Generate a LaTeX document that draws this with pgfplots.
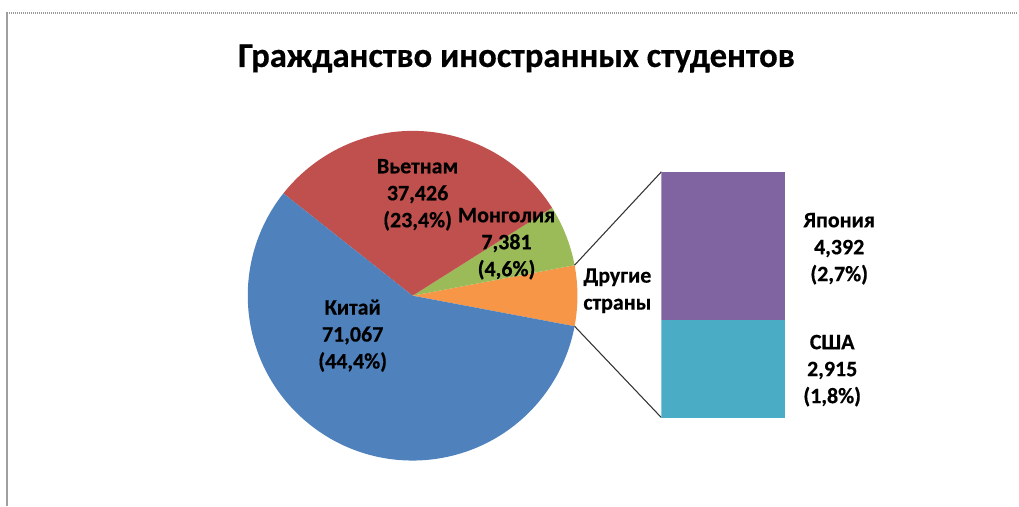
\documentclass[border=0pt]{standalone}
\usepackage{pgfplots}
\pgfplotsset{compat=1.18}
\usepackage{fontspec}
\setmainfont{Carlito}[BoldFeatures={FakeBold=0.5}]
\definecolor{cChina}{HTML}{4F81BD}
\definecolor{cVietnam}{HTML}{C0504D}
\definecolor{cMongolia}{HTML}{9BBB59}
\definecolor{cOther}{HTML}{F79646}
\definecolor{cJapan}{HTML}{8064A2}
\definecolor{cUSA}{HTML}{4BACC6}
% data (students)
\def\vChina{71067}
\def\vVietnam{37426}
\def\vMongolia{7381}
\def\vJapan{4392}
\def\vUSA{2915}
\edef\vOther{\fpeval{\vJapan+\vUSA}}
\edef\vTot{\fpeval{\vChina+\vVietnam+\vMongolia+\vOther}}
\edef\aHalf{\fpeval{180*\vOther/\vTot}}
\edef\aA{\fpeval{-\aHalf}}
\edef\aB{\aHalf}
\edef\aC{\fpeval{\aB+360*\vMongolia/\vTot}}
\edef\aD{\fpeval{\aC+360*\vVietnam/\vTot}}
\edef\aE{\fpeval{\aD+360*\vChina/\vTot}}
\def\R{123.75pt}
\newcommand\lbl{\fontsize{16.5}{20.25}\selectfont\bfseries}
\begin{document}
\begin{tikzpicture}
\begin{axis}[x=0.75pt,y=0.75pt,xmin=0,xmax=1019,ymin=0,ymax=506,
  hide axis,clip=false,at={(0pt,0pt)},anchor=south west]
\path (axis cs:0,0) rectangle (axis cs:1019,506);
% border
\draw[gray!75,line width=1.5pt] (axis cs:7.5,0) -- (axis cs:7.5,493.5);
\draw[gray!80,line width=1.5pt,dash pattern=on 0.75pt off 0.75pt] (axis cs:7,492.5) -- (axis cs:1019,492.5);
% pie
\fill[cOther] (axis cs:413,210) -- ++(\aA:\R) arc[start angle=\aA,end angle=\aB,radius=\R] -- cycle;
\fill[cMongolia] (axis cs:413,210) -- ++(\aB:\R) arc[start angle=\aB,end angle=\aC,radius=\R] -- cycle;
\fill[cVietnam] (axis cs:413,210) -- ++(\aC:\R) arc[start angle=\aC,end angle=\aD,radius=\R] -- cycle;
\fill[cChina] (axis cs:413,210) -- ++(\aD:\R) arc[start angle=\aD,end angle=\aE,radius=\R] -- cycle;
% connectors
\draw[black!80,line width=0.8pt] (axis cs:413,210) ++(\aB:\R) -- (axis cs:662,334);
\draw[black!80,line width=0.8pt] (axis cs:413,210) ++(\aA:\R) -- (axis cs:662,88);
% title
\node[font=\fontsize{26}{30}\selectfont\bfseries,anchor=base] at (axis cs:517,439) {Гражданство иностранных студентов};
% labels
\node[align=center,font=\lbl] at (axis cs:418,311) {Вьетнам\\37,426\\(23,4\%)};
\node[align=center,font=\lbl] at (axis cs:507,262) {Монголия\\7,381\\(4,6\%)};
\node[align=center,font=\lbl] at (axis cs:353,170) {Китай\\71,067\\(44,4\%)};
\node[align=center,font=\lbl] at (axis cs:618,215) {Другие\\страны};
\node[align=center,font=\lbl] at (axis cs:840,257) {Япония\\4,392\\(2,7\%)};
\node[align=center,font=\lbl] at (axis cs:833,135) {США\\2,915\\(1,8\%)};
\end{axis}
\begin{axis}[at={(496.5pt,66pt)},anchor=south west,scale only axis,
  width=93pt,height=184.5pt,hide axis,ymin=0,ymax=7307,xmin=-0.5,xmax=0.5,
  ybar stacked,bar width=93pt]
\addplot[fill=cUSA,draw=none] coordinates {(0,2915)};
\addplot[fill=cJapan,draw=none] coordinates {(0,4392)};
\end{axis}
\end{tikzpicture}
\end{document}
